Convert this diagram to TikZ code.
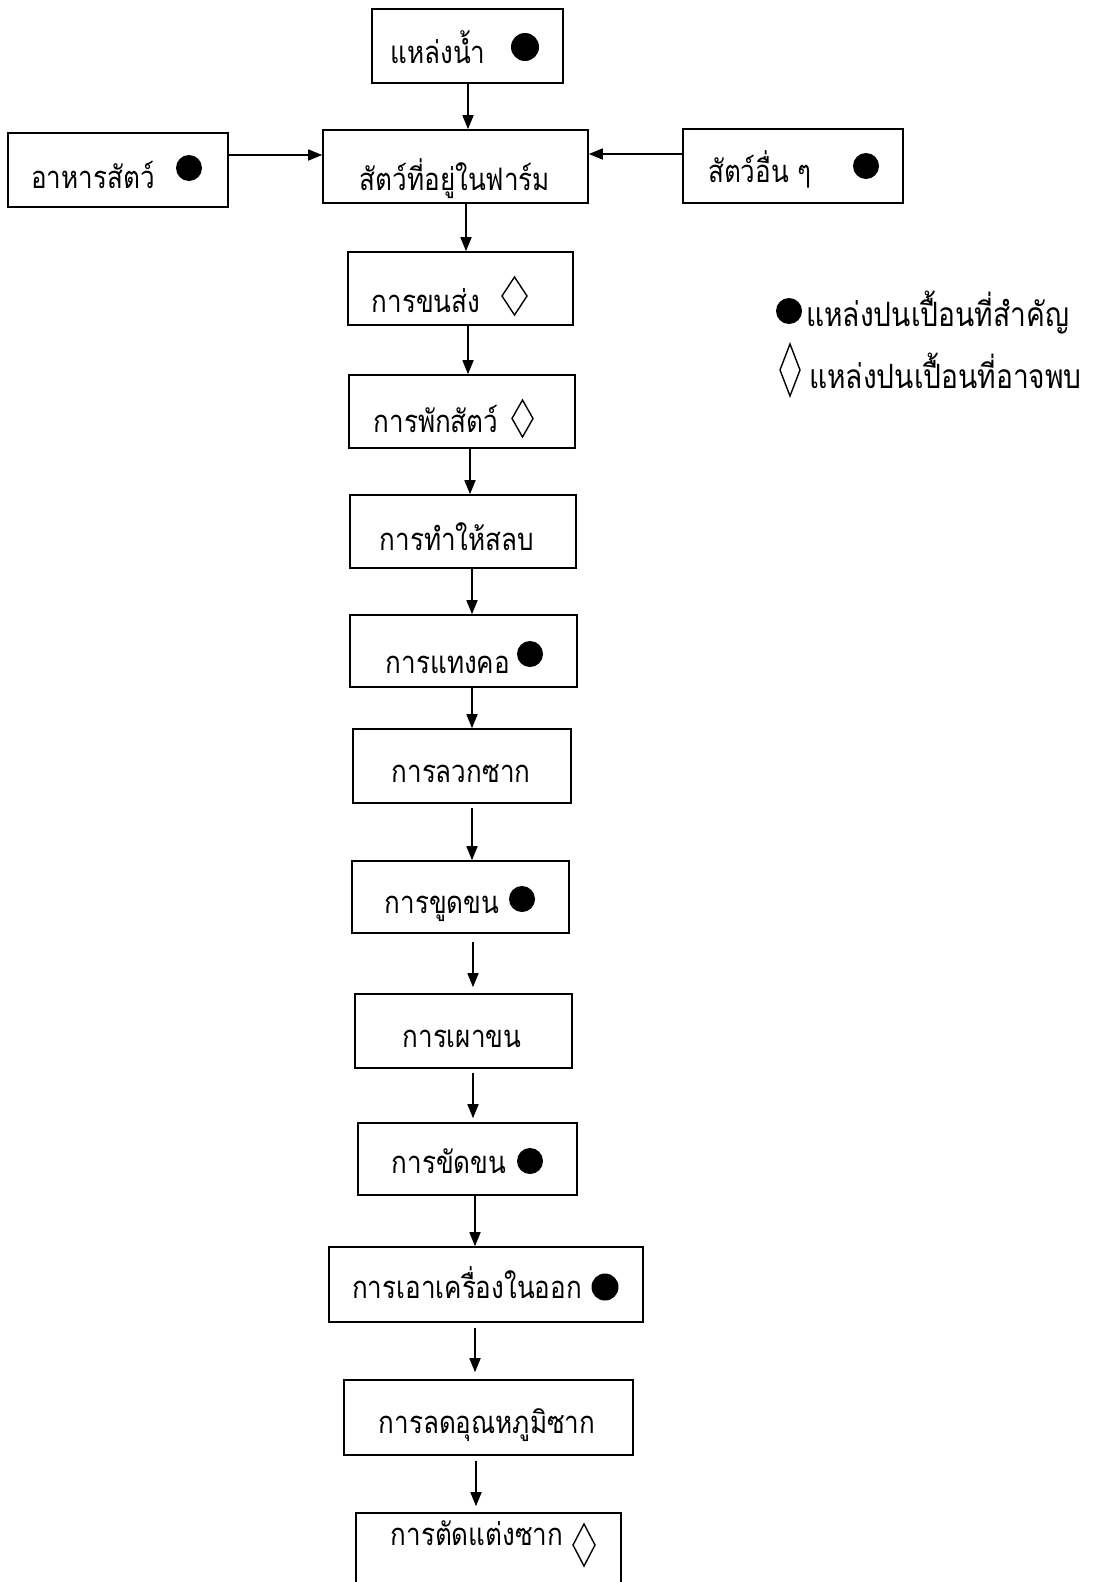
\documentclass[tikz,border=0pt]{standalone}
\usepackage{fontspec}
\newfontfamily\thaifont[Script=Thai,FakeStretch=0.84]{Loma}
\usetikzlibrary{arrows.meta}
\begin{document}
\begin{tikzpicture}[x=1pt,y=-1pt,
  box/.style={draw,line width=1.6pt,inner sep=0pt},
  arr/.style={line width=1.6pt,-{Triangle[length=14pt,width=11pt]}},
  lbl/.style={anchor=base,inner sep=0pt,font=\thaifont\fontsize{31}{36}\selectfont},
  lgd/.style={anchor=base west,inner sep=0pt,font=\thaifont\fontsize{33.5}{38}\selectfont},
  dia/.style={line width=1.4pt}]
\useasboundingbox (0,0) rectangle (1095,1582);
% boxes
\node[box,minimum width=191pt,minimum height=74pt] (water) at (467.5,46) {};
\node[box,minimum width=220pt,minimum height=74pt] (feed) at (118,170) {};
\node[box,minimum width=265pt,minimum height=73pt] (farm) at (455.5,166.5) {};
\node[box,minimum width=220pt,minimum height=74pt] (other) at (793,166) {};
\node[box,minimum width=225pt,minimum height=73pt] (trans) at (460.5,288.5) {};
\node[box,minimum width=226pt,minimum height=73pt] (rest) at (462,411.5) {};
\node[box,minimum width=226pt,minimum height=73pt] (stun) at (463,531.5) {};
\node[box,minimum width=227pt,minimum height=72pt] (stick) at (463.5,651) {};
\node[box,minimum width=218pt,minimum height=74pt] (scald) at (462,766) {};
\node[box,minimum width=217pt,minimum height=72pt] (scrape) at (460.5,897) {};
\node[box,minimum width=217pt,minimum height=74pt] (singe) at (463.5,1031) {};
\node[box,minimum width=219pt,minimum height=72pt] (polish) at (467.5,1159) {};
\node[box,minimum width=314pt,minimum height=75pt] (evisc) at (486,1284.5) {};
\node[box,minimum width=289pt,minimum height=75pt] (chill) at (488.5,1417.5) {};
\node[box,minimum width=265pt,minimum height=77pt] (trim) at (488.5,1551.5) {};
% labels
\node[lbl] (twater) at (438,63) {แหล่งน้ำ};
\node[lbl] (tfeed) at (93,188) {อาหารสัตว์};
\node[lbl] (tfarm) at (455,190) {สัตว์ที่อยู่ในฟาร์ม};
\node[lbl] (tother) at (760,182) {สัตว์อื่น ๆ};
\node[lbl] (ttrans) at (426,312) {การขนส่ง};
\node[lbl] (trest) at (436,432) {การพักสัตว์};
\node[lbl] (tstun) at (457,550) {การทำให้สลบ};
\node[lbl] (tstick) at (448,673) {การแทงคอ};
\node[lbl] (tscald) at (461,782) {การลวกซาก};
\node[lbl] (tscrape) at (442,913) {การขูดขน};
\node[lbl] (tsinge) at (462,1047) {การเผาขน};
\node[lbl] (tpolish) at (449,1173) {การขัดขน};
\node[lbl] (tevisc) at (467,1298) {การเอาเครื่องในออก};
\node[lbl] (tchill) at (487,1433) {การลดอุณหภูมิซาก};
\node[lbl] (ttrim) at (477,1545) {การตัดแต่งซาก};
\node[lgd] (leg1) at (806,326) {แหล่งปนเปื้อนที่สำคัญ};
\node[lgd] (leg2) at (809,388) {แหล่งปนเปื้อนที่อาจพบ};
% markers
\fill (525,47) circle (14pt);
\fill (189,168) circle (13pt);
\fill (866,166) circle (13pt);
\fill (530,654) circle (13pt);
\fill (522,899) circle (13pt);
\fill (530,1161) circle (13pt);
\fill (605,1287) circle (13.5pt);
\fill (789,311) circle (13pt);
\draw[dia] (514.5,277) -- (527,296) -- (514.5,315) -- (502,296) -- cycle;
\draw[dia] (522.5,400) -- (533,418.5) -- (522.5,437) -- (512,418.5) -- cycle;
\draw[dia] (584,1524) -- (595,1545) -- (584,1566) -- (573,1545) -- cycle;
\draw[dia] (790,344) -- (800,370) -- (790,396) -- (780,370) -- cycle;
% arrows
\draw[arr] (water.south -| 468,0) -- (farm.north -| 468,0);
\draw[arr] (feed.east |- 0,155) -- (farm.west |- 0,155);
\draw[arr] (other.west |- 0,154) -- (farm.east |- 0,154);
\draw[arr] (farm.south -| 466,0) -- (trans.north -| 466,0);
\draw[arr] (trans.south -| 468,0) -- (rest.north -| 468,0);
\draw[arr] (rest.south -| 470,0) -- (stun.north -| 470,0);
\draw[arr] (stun.south -| 472,0) -- (stick.north -| 472,0);
\draw[arr] (stick.south -| 472,0) -- (scald.north -| 472,0);
\draw[arr,shorten <=4pt] (scald.south -| 472,0) -- (scrape.north -| 472,0);
\draw[arr,shorten <=8pt,shorten >=6pt] (scrape.south -| 473,0) -- (singe.north -| 473,0);
\draw[arr,shorten <=4pt,shorten >=4pt] (singe.south -| 473,0) -- (polish.north -| 473,0);
\draw[arr] (polish.south -| 475,0) -- (evisc.north -| 475,0);
\draw[arr,shorten <=5pt,shorten >=7pt] (evisc.south -| 475,0) -- (chill.north -| 475,0);
\draw[arr,shorten <=5pt,shorten >=6pt] (chill.south -| 476,0) -- (trim.north -| 476,0);
\end{tikzpicture}
\end{document}
